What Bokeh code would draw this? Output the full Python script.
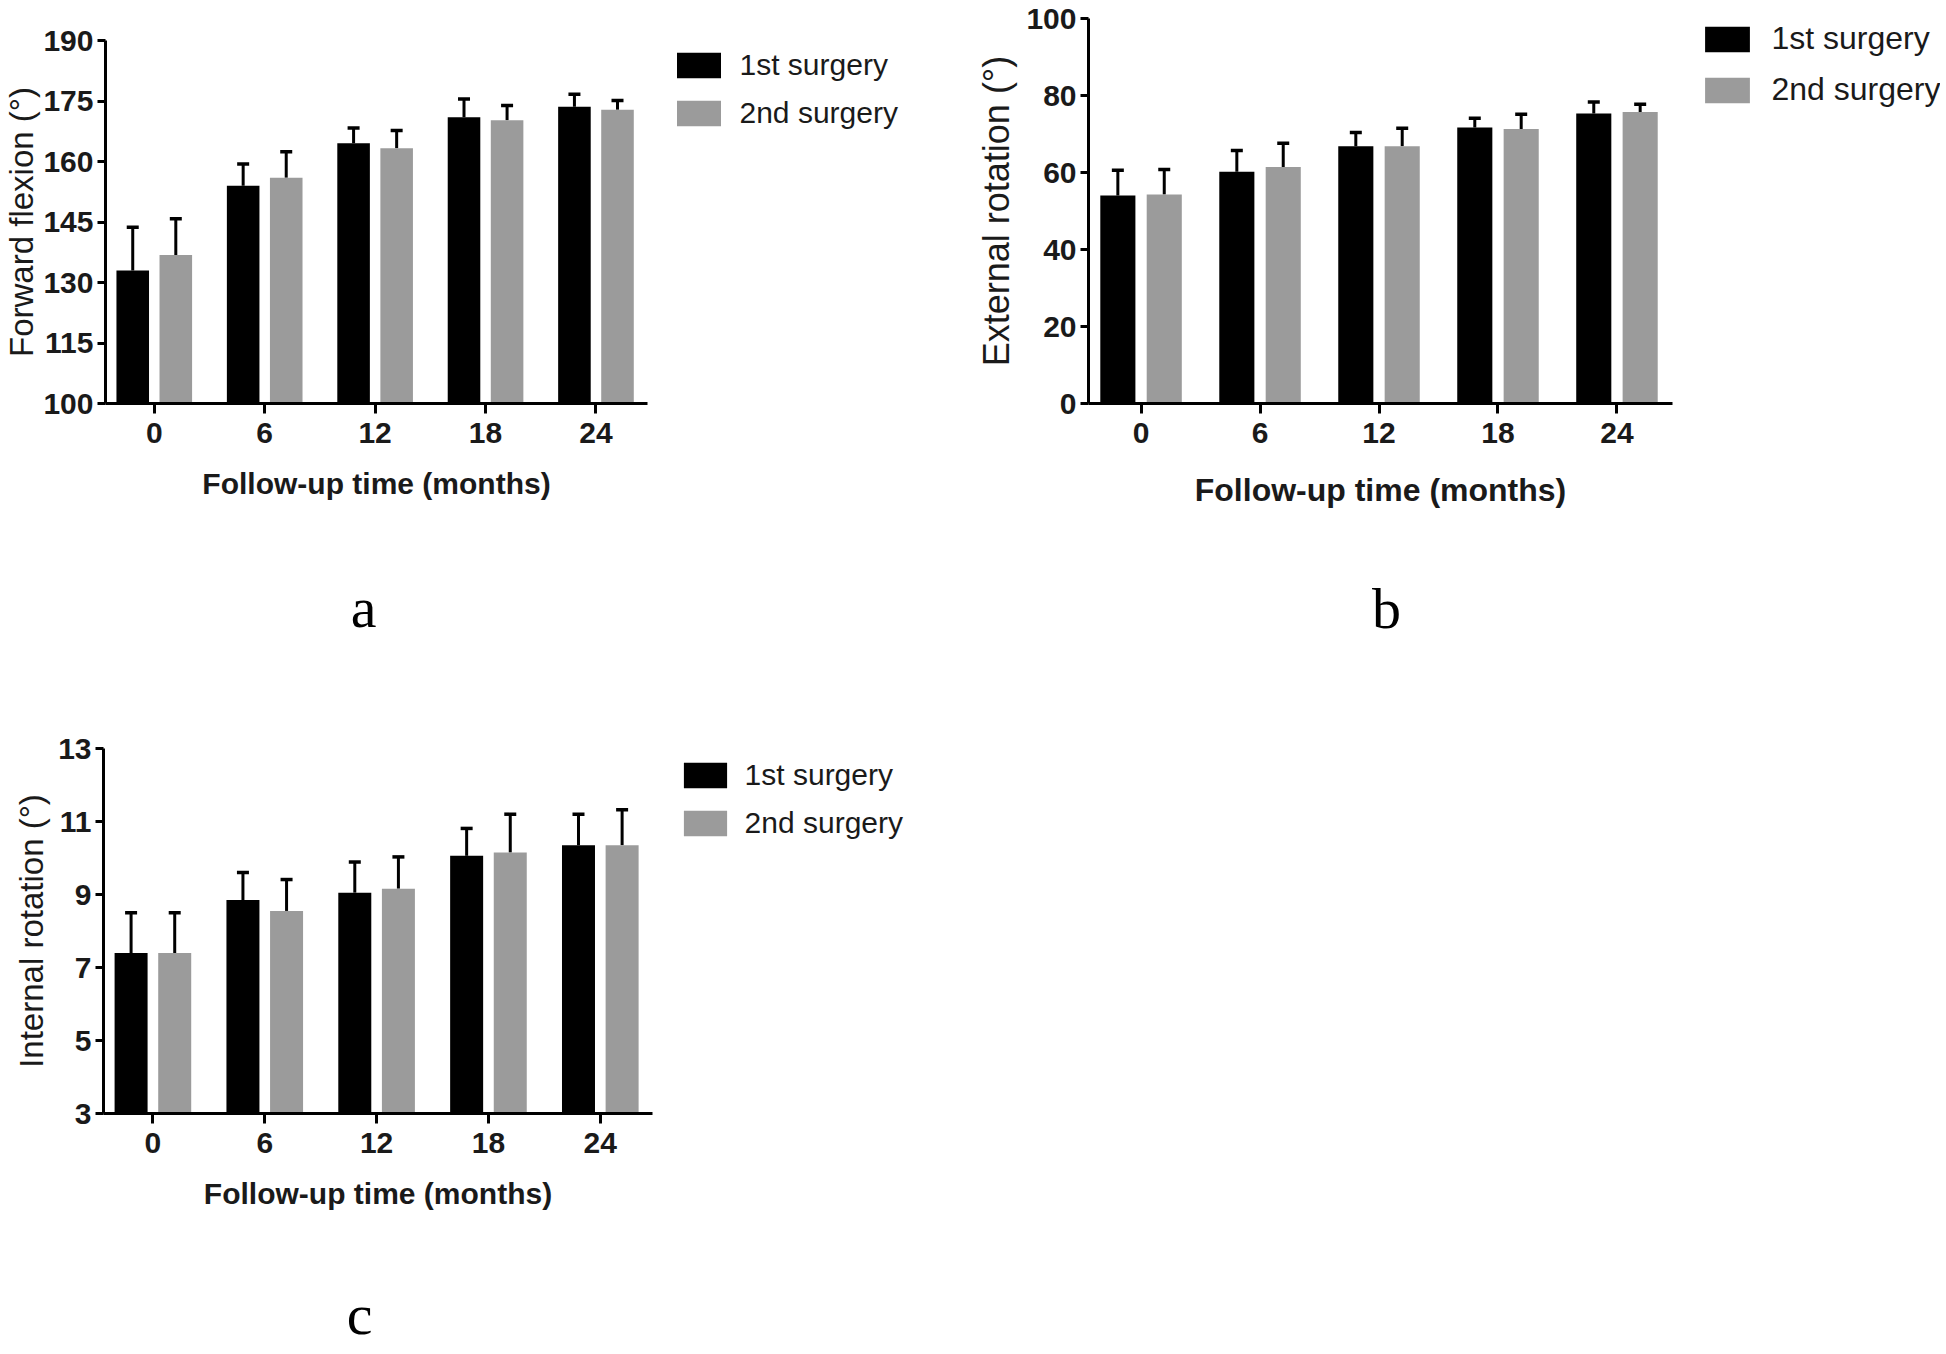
from bokeh.plotting import figure
from bokeh.models import (ColumnDataSource, Whisker, TeeHead, Legend, LegendItem,
                          Label, FixedTicker, Range1d)
from bokeh.layouts import column, row
from bokeh.embed import file_html
from bokeh.resources import INLINE

# ---------------- data ----------------
months = [0, 6, 12, 18, 24]
month_labels = ["0", "6", "12", "18", "24"]
series_names = ["1st surgery", "2nd surgery"]
x_title = "Follow-up time (months)"

# (a) forward flexion
ff_title = "Forward flexion (°)"
ff_1st = [133.0, 154.0, 164.5, 171.0, 173.6]
ff_1st_sd = [10.7, 5.4, 3.8, 4.5, 3.1]
ff_2nd = [136.8, 156.0, 163.3, 170.2, 172.8]
ff_2nd_sd = [9.0, 6.4, 4.4, 3.7, 2.3]
ff_ticks = [100, 115, 130, 145, 160, 175, 190]

# (b) external rotation
er_title = "External rotation (°)"
er_1st = [54.0, 60.2, 66.8, 71.7, 75.3]
er_1st_sd = [6.6, 5.5, 3.6, 2.4, 3.0]
er_2nd = [54.3, 61.4, 66.8, 71.3, 75.7]
er_2nd_sd = [6.5, 6.2, 4.7, 3.8, 2.0]
er_ticks = [0, 20, 40, 60, 80, 100]

# (c) internal rotation
ir_title = "Internal rotation (°)"
ir_1st = [7.4, 8.85, 9.05, 10.06, 10.35]
ir_1st_sd = [1.1, 0.75, 0.84, 0.75, 0.85]
ir_2nd = [7.4, 8.55, 9.16, 10.15, 10.35]
ir_2nd_sd = [1.1, 0.86, 0.87, 1.05, 0.97]
ir_ticks = [3, 5, 7, 9, 11, 13]

colors = ["#000000", "#9b9b9b"]
FONT = "Liberation Sans"
SERIF = "Liberation Serif"

X_LO, X_HI = -2.65, 26.8
BAR_W = 1.77
OFFSET = 1.17


def bar_sources(s1, e1, s2, e2):
    out = []
    for vals, sds, off in [(s1, e1, -OFFSET), (s2, e2, OFFSET)]:
        out.append(dict(x=[m + off for m in months], top=list(vals),
                        upper=[v + s for v, s in zip(vals, sds)]))
    return out


def blank_fig(W, H, xr=(0, 1), yr=(0, 1)):
    f = figure(width=W, height=H, min_border=0, min_border_left=0,
               min_border_right=0, min_border_top=0, min_border_bottom=0,
               x_range=Range1d(*xr), y_range=Range1d(*yr),
               x_axis_location=None, y_axis_location=None,
               output_backend="svg", toolbar_location=None)
    f.outline_line_color = None
    f.xgrid.visible = False
    f.ygrid.visible = False
    f.background_fill_color = "white"
    f.border_fill_color = "white"
    return f


def make_panel(W, H, bl, bt, fw, fh, ticks, y_title, s1, e1, s2, e2,
               tick_fs, xt_fs, yt_fs, y_std, x_lstd, x_tstd):
    p = figure(width=W, height=H,
               min_border_left=bl, min_border_top=bt,
               min_border_right=W - bl - fw, min_border_bottom=H - bt - fh,
               x_range=Range1d(X_LO, X_HI),
               y_range=Range1d(ticks[0], ticks[-1]),
               output_backend="svg", toolbar_location=None)
    p.outline_line_color = None
    p.xgrid.visible = False
    p.ygrid.visible = False
    p.background_fill_color = "white"
    p.border_fill_color = "white"

    for d, col in zip(bar_sources(s1, e1, s2, e2), colors):
        src = ColumnDataSource(d)
        p.vbar(x="x", top="top", bottom=ticks[0], width=BAR_W, source=src,
               fill_color=col, line_color=None)
        wh = Whisker(source=src, base="x", lower="top", upper="upper",
                     dimension="height", line_color="black", line_width=3,
                     lower_head=None,
                     upper_head=TeeHead(size=12, line_width=3.5, line_color="black"))
        p.add_layout(wh)

    for ax in (p.xaxis[0], p.yaxis[0]):
        ax.axis_line_color = "black"
        ax.axis_line_width = 3
        ax.major_tick_line_color = "black"
        ax.major_tick_line_width = 3
        ax.major_tick_in = 0
        ax.minor_tick_line_color = None
        ax.major_label_text_font = FONT
        ax.major_label_text_font_style = "bold"
        ax.major_label_text_font_size = f"{tick_fs}px"
        ax.major_label_text_color = "#1a1a1a"
        ax.axis_label_text_font = FONT
        ax.axis_label_text_color = "#1a1a1a"

    p.xaxis.ticker = FixedTicker(ticks=months)
    p.xaxis.major_label_overrides = {m: l for m, l in zip(months, month_labels)}
    p.xaxis.major_tick_out = 10
    p.xaxis.major_label_standoff = x_lstd
    p.xaxis.axis_label = x_title
    p.xaxis.axis_label_text_font_style = "bold"
    p.xaxis.axis_label_text_font_size = f"{xt_fs}px"
    p.xaxis.axis_label_standoff = x_tstd

    p.yaxis.ticker = FixedTicker(ticks=ticks)
    p.yaxis.major_tick_out = 8
    p.yaxis.major_label_standoff = 4
    p.yaxis.axis_label = y_title
    p.yaxis.axis_label_text_font_style = "normal"
    p.yaxis.axis_label_text_font_size = f"{yt_fs}px"
    p.yaxis.axis_label_standoff = y_std
    return p


def make_legend_fig(W, H, s1, e1, s2, e2, fs, gw, gh, step, x, item_top, standoff):
    # legend-only figure: its (hidden) bars only supply the legend swatches
    f = blank_fig(W, H)
    rs = []
    for d, col in zip(bar_sources(s1, e1, s2, e2), colors):
        rs.append(f.vbar(x="x", top="top", bottom=0, width=BAR_W,
                         source=ColumnDataSource(d), fill_color=col, line_color=None,
                         visible=False))
    h = round(fs * 1.13)
    spacing = step - h
    leg_H = 2 * h + spacing
    items = [LegendItem(label=n, renderers=[r]) for n, r in zip(series_names, rs)]
    legend = Legend(items=items, location=(x, H - item_top - leg_H),
                    glyph_width=gw, glyph_height=gh, label_height=gh,
                    spacing=spacing, padding=0, margin=0, label_standoff=standoff,
                    border_line_color=None, background_fill_alpha=0,
                    inactive_fill_alpha=0,
                    label_text_font=FONT, label_text_font_size=f"{fs}px",
                    label_text_color="#1a1a1a")
    f.add_layout(legend)
    return f


def make_letter_fig(W, H, letter, x, y):
    f = blank_fig(W, H)
    f.add_layout(Label(x=x, y=y, x_units="screen", y_units="screen",
                       text=letter, text_font=SERIF, text_font_size="58px",
                       text_align="center", text_baseline="alphabetic",
                       text_color="black"))
    return f


# ---- panel a (top-left) ----
pa = make_panel(657, 523, 102, 40, 545, 363, ff_ticks, ff_title,
                ff_1st, ff_1st_sd, ff_2nd, ff_2nd_sd, 30, 30, 33, 0, 9, 21)
la = make_letter_fig(657, 157, "a", 258, 73)
ga = make_legend_fig(291, 680, ff_1st, ff_1st_sd, ff_2nd, ff_2nd_sd,
                     30, 55, 32, 48, 13.5, 48, 14)

# ---- panel b (top-right) ----
pb = make_panel(734, 523, 140, 18, 584, 385, er_ticks, er_title,
                er_1st, er_1st_sd, er_2nd, er_2nd_sd, 30, 32, 36, 6, 9, 26)
lb = make_letter_fig(734, 157, "b", 298, 72)
gb = make_legend_fig(258, 680, er_1st, er_1st_sd, er_2nd, er_2nd_sd,
                     32, 56, 32, 50, 17.4, 22, 16)

# ---- panel c (bottom-left) ----
pc = make_panel(662, 553, 103, 68, 549, 365, ir_ticks, ir_title,
                ir_1st, ir_1st_sd, ir_2nd, ir_2nd_sd, 30, 30, 33, 5, 9, 21)
lc = make_letter_fig(662, 118, "c", 256, 37)
gc = make_legend_fig(300, 671, ir_1st, ir_1st_sd, ir_2nd, ir_2nd_sd,
                     30, 54, 32, 48, 15.6, 78, 13)

layout = column(
    row(column(pa, la), ga, column(pb, lb), gb),
    row(column(pc, lc), gc),
)
open("out.html", "w").write(file_html(layout, INLINE))
